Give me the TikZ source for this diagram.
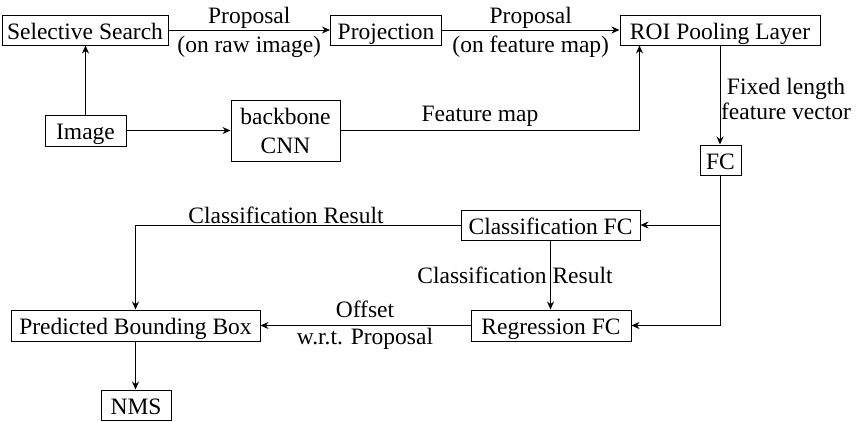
\documentclass[tikz,border=0pt]{standalone}
\usepackage{fontspec}
\setmainfont{Liberation Serif}
\usetikzlibrary{arrows.meta}
\begin{document}
\begin{tikzpicture}[x=1pt,y=-1pt,
  txt/.style={font=\fontsize{23.5}{29}\selectfont},
  box/.style={txt,draw,line width=1pt,inner sep=0pt,minimum height=30pt,text height=19pt,text depth=1pt},
  lbl/.style={txt,inner sep=0pt,align=center},
  conn/.style={line width=1pt,-{Stealth[length=8pt,width=7pt]}}]
\useasboundingbox (0,0) rectangle (865,421);
% nodes
\node[box,minimum width=166pt] (ss) at (85,30) {Selective Search};
\node[box,minimum width=111pt] (proj) at (386,30) {Projection};
\node[box,minimum width=200pt] (roi) at (720,30) {ROI Pooling Layer};
\node[box,minimum width=81pt,minimum height=31pt] (img) at (85.5,130.5) {Image};
\node[txt,draw,line width=1pt,inner sep=0pt,align=center,minimum width=109pt,minimum height=61pt] (cnn) at (285.5,130.5) {backbone\\CNN};
\node[box,minimum width=41pt] (fc) at (720.5,160) {FC};
\node[box,minimum width=179pt] (cls) at (550.5,225) {Classification FC};
\node[box,minimum width=160pt,minimum height=31pt] (reg) at (551,325.5) {Regression FC};
\node[box,minimum width=249pt,minimum height=31pt] (pbb) at (135.5,325.5) {Predicted Bounding Box};
\node[box,minimum width=70pt,minimum height=30pt] (nms) at (136,405) {NMS};
% connectors
\draw[conn] (ss) -- (proj) node[lbl,midway,yshift=-2pt] (l1) {Proposal\\(on raw image)};
\draw[conn] (proj) -- (roi) node[lbl,midway,yshift=-2pt] (l2) {Proposal\\(on feature map)};
\draw[conn] (img.north) -- (img.north |- ss.south);
\draw[conn] (img) -- (cnn);
\draw[conn] (cnn.east) -| ([xshift=20pt]roi.south west);
\node[lbl] (l3) at (480,116) {Feature map};
\draw[conn] (roi.south) -- (roi.south |- fc.north);
\node[lbl,font=\fontsize{23.5}{25}\selectfont] (l4) at (786,99) {Fixed length\\feature vector};
\draw[conn] (fc.south) |- (cls.east);
\draw[conn] (fc.south) |- (reg.east);
\draw[conn] (cls.west) -| (pbb.north);
\node[lbl] (l5) at (286,215) {Classification Result};
\draw[conn] (cls.south) -- (cls.south |- reg.north);
\node[lbl] (l6) at (515,275) {Classification Result};
\draw[conn] (reg) -- (pbb);
\node[lbl,font=\fontsize{23.5}{27}\selectfont] (l7) at (365,325) {Offset\\w.r.t. Proposal};
\draw[conn] (pbb.south) -- (pbb.south |- nms.north);
\end{tikzpicture}
\end{document}
